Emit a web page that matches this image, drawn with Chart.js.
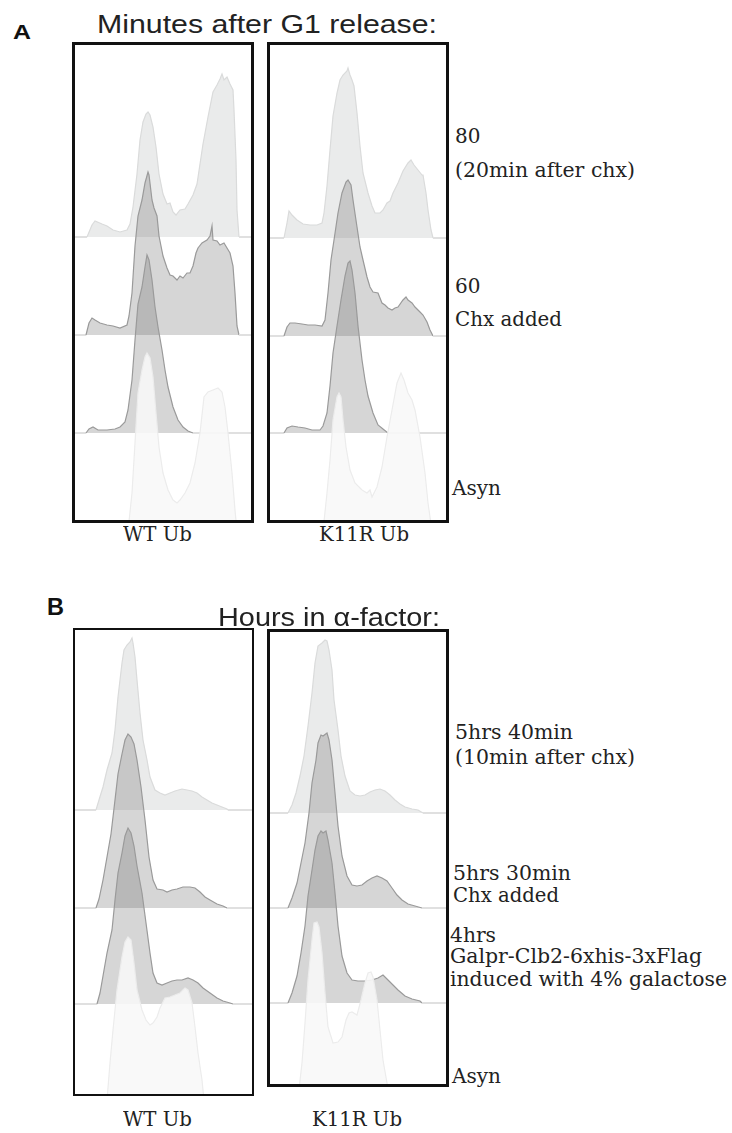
<!DOCTYPE html>
<html><head><meta charset="utf-8">
<script src="https://cdn.jsdelivr.net/npm/chart.js@4.4.1/dist/chart.umd.min.js"></script>
<style>
html,body{margin:0;padding:0;background:#fff;}
body{width:732px;height:1133px;position:relative;overflow:hidden;}
.box{position:absolute;box-sizing:border-box;border-style:solid;border-color:#111;background:#fff;}
.box canvas{display:block;}
.t{position:absolute;left:0;top:0;white-space:nowrap;transform-origin:0 0;color:#222;line-height:1;}
.mk{display:inline-block;width:0;height:0;vertical-align:baseline;}
</style></head><body>
<script>
// ===== DATA: DNA-content histograms (channel, relative cell count) =====
// Panel A, WT Ub
const aWT_80_ch = [12,17,20,27,32,38,45,52,55,58,62,65,68,71,73,75,78,81,84,88,92,95,98,101,105,110,113,118,122,125,128,133,138,142,145,147,149,152,155,158,159,161,162,164];
const aWT_80_n  = [0,12,16,13,11,7,5,7,13,30,63,97,115,123,125,122,110,90,63,43,33,34,25,22,27,28,33,42,53,73,93,120,145,152,158,163,157,160,153,147,127,77,27,0];
const aWT_60_ch = [11,14,17,20,25,32,38,45,52,54,57,60,63,67,70,73,74,77,79,82,84,88,92,95,98,102,105,108,112,115,118,121,123,127,132,135,137,138,142,145,149,152,155,158,160,162,164];
const aWT_60_n  = [0,12,17,15,12,10,9,7,10,19,42,89,119,135,152,163,160,135,127,119,99,79,67,60,59,55,59,57,62,62,69,82,87,92,95,99,109,95,94,90,92,87,82,69,42,9,0];
const aWT_G1_ch = [11,14,18,23,32,40,45,50,53,57,60,63,67,70,72,74,77,80,83,87,90,93,98,103,108,113,118];
const aWT_G1_n  = [0,4,6,3,3,4,6,11,23,53,93,129,146,166,178,173,153,126,106,83,63,46,26,13,6,2,0];
const aWT_As_ch = [53,57,60,63,67,70,72,75,78,81,84,88,93,98,102,105,110,115,120,125,129,133,138,143,147,150,153,157,160,162];
const aWT_As_n  = [0,38,88,138,161,174,178,173,154,118,84,58,41,31,28,31,38,48,68,98,134,139,141,143,139,124,98,58,21,0];
// Panel A, K11R Ub
const aKR_80_ch = [14,17,19,22,27,33,40,47,52,54,57,60,63,67,70,73,77,78,80,82,83,84,87,90,93,98,102,105,110,113,117,120,123,128,133,138,141,144,148,152,153,156,158,161,163];
const aKR_80_n  = [0,15,27,23,18,14,13,13,15,25,52,88,122,145,158,163,167,170,163,158,155,152,125,92,65,45,32,25,25,28,35,37,45,55,67,75,78,73,68,63,63,45,28,8,0];
const aKR_60_ch = [14,17,20,25,32,38,45,52,55,58,61,64,68,72,76,78,81,83,87,90,93,97,100,103,108,112,115,118,122,125,128,133,136,138,142,145,150,153,157,160,163];
const aKR_60_n  = [0,9,13,13,12,11,11,10,16,43,76,96,123,143,154,156,151,136,109,89,76,59,49,44,43,33,31,28,26,28,29,36,39,36,33,29,24,21,14,6,0];
const aKR_G1_ch = [14,17,22,28,35,42,50,53,57,60,63,67,71,75,78,80,82,85,88,92,95,98,103,108,113,118];
const aKR_G1_n  = [0,5,7,6,5,3,3,7,20,47,80,107,133,157,170,172,163,140,107,73,53,37,20,8,4,0];
const aKR_As_ch = [53,57,60,63,67,69,71,73,76,80,85,92,97,100,102,107,112,117,122,127,131,134,138,142,145,150,155,158,162];
const aKR_As_n  = [0,38,71,111,134,138,134,111,84,61,48,41,38,41,34,44,64,94,121,148,158,151,138,131,121,94,58,28,0];
// Panel B, WT Ub
const bWT_540_ch = [21,24,28,32,37,40,43,47,49,52,55,57,58,60,62,65,68,72,75,80,85,90,95,100,107,112,117,122,127,132,137,142,147,152,153];
const bWT_540_n  = [0,10,23,40,57,80,113,147,160,165,168,172,167,153,130,97,70,50,33,20,17,15,17,19,21,20,19,17,13,10,7,5,3,1,0];
const bWT_530_ch = [21,24,28,32,36,40,43,47,50,53,56,59,62,66,70,74,78,82,88,92,97,102,108,115,120,125,130,135,142,148,152];
const bWT_530_n  = [0,9,28,51,74,108,134,154,168,174,171,164,148,121,88,51,28,19,18,16,18,19,21,21,20,16,11,8,4,2,0];
const bWT_4h_ch  = [22,25,28,32,37,40,43,47,50,53,56,59,62,67,71,75,78,82,87,92,97,102,107,113,118,123,128,135,142,148,155,158];
const bWT_4h_n   = [0,11,28,51,74,104,131,151,168,176,171,158,138,111,81,51,31,21,19,21,23,24,24,26,24,21,16,11,6,3,1,0];
const bWT_As_ch  = [32,35,38,42,47,50,53,56,59,62,67,71,75,78,82,85,90,95,100,105,110,113,117,120,123,127,129];
const bWT_As_n   = [0,37,70,110,143,158,163,160,137,110,90,80,75,77,83,92,102,103,105,107,112,110,97,73,47,20,0];
// Panel B, K11R Ub
const bKR_540_ch = [18,22,26,30,34,38,42,45,48,52,55,57,59,62,64,68,71,75,80,85,90,95,100,105,110,115,120,125,130,135,142,148,153];
const bKR_540_n  = [0,8,20,37,57,87,120,150,167,170,173,172,163,143,113,83,57,37,22,18,17,18,21,23,24,22,18,13,9,6,4,3,0];
const bKR_530_ch = [18,22,27,31,35,39,42,46,48,51,53,57,59,62,65,68,72,77,82,87,92,97,102,107,112,117,122,127,132,138,145,152];
const bKR_530_n  = [0,10,25,45,65,95,125,148,165,173,172,175,168,148,115,82,52,32,23,22,23,27,30,32,30,27,20,13,8,4,2,0];
const bKR_4h_ch  = [18,22,27,31,35,38,42,45,48,51,53,56,58,62,65,68,72,77,82,88,95,102,108,113,118,123,128,135,142,150,152];
const bKR_4h_n   = [0,10,27,50,77,107,133,153,167,172,170,172,163,140,110,77,47,30,23,22,22,23,25,28,23,18,13,7,4,2,0];
const bKR_As_ch  = [28,32,35,38,42,44,47,49,52,55,58,63,68,72,76,79,82,87,91,95,98,101,103,107,110,113,117,120];
const bKR_As_n   = [0,35,75,118,158,175,176,171,145,105,71,55,56,61,78,85,86,83,98,115,125,126,121,98,68,38,15,0];

// Labels
const panelLetters = ['A','B'];
const panelTitles = ['Minutes after G1 release:','Hours in α-factor:'];
const strainLabels = ['WT Ub','K11R Ub'];
const rowLabelsA = [['80','(20min after chx)'],['60','Chx added'],['Asyn']];
const rowLabelsB = [['5hrs 40min','(10min after chx)'],['5hrs 30min','Chx added'],['4hrs','Galpr-Clb2-6xhis-3xFlag','induced with 4% galactose'],['Asyn']];

// ===== LAYOUT / STYLE =====
const STY = {
  light:{fill:'rgba(214,216,216,0.5)', border:'#dadbdb', w:1.2},
  dark:{fill:'rgba(105,105,105,0.27)', border:'#9a9a9a', w:1.2},
  asyn:{fill:'rgba(248,248,248,0.9)', border:'#ececec', w:1.2},
  baseCol:'#e0e0e0'
};
const BOXES = [
  {left:72, top:42, w:182, h:481, b:3, base:[192,290,388,486],
   sets:[[aWT_80_ch,aWT_80_n],[aWT_60_ch,aWT_60_n],[aWT_G1_ch,aWT_G1_n],[aWT_As_ch,aWT_As_n]]},
  {left:267, top:42, w:182, h:481, b:3, base:[193,291,388,486],
   sets:[[aKR_80_ch,aKR_80_n],[aKR_60_ch,aKR_60_n],[aKR_G1_ch,aKR_G1_n],[aKR_As_ch,aKR_As_n]]},
  {left:73, top:628, w:181, h:468, b:2, base:[180,278,374,470],
   sets:[[bWT_540_ch,bWT_540_n],[bWT_530_ch,bWT_530_n],[bWT_4h_ch,bWT_4h_n],[bWT_As_ch,bWT_As_n]]},
  {left:267, top:629, w:182, h:458, b:3, base:[181,276,371,466],
   sets:[[bKR_540_ch,bKR_540_n],[bKR_530_ch,bKR_530_n],[bKR_4h_ch,bKR_4h_n],[bKR_As_ch,bKR_As_n]]}
];
const styleOrder = ['light','dark','dark','asyn'];

function makeDataset(ch, n, st, axis, order, xMax){
  const pts = [{x:0,y:0}].concat(ch.map((c,i)=>({x:c,y:n[i]}))).concat([{x:xMax,y:0}]);
  const flat = c => c.p0.parsed.y === 0 && c.p1.parsed.y === 0;
  return {
    data: pts, yAxisID: axis, order: order,
    borderColor: st.border, borderWidth: st.w, backgroundColor: st.fill,
    fill: 'origin', pointRadius: 0, tension: 0,
    segment: {
      borderColor: c => flat(c) ? STY.baseCol : undefined,
      borderWidth: c => flat(c) ? 2 : undefined
    }
  };
}

BOXES.forEach(bx => {
  const div = document.createElement('div');
  div.className = 'box';
  Object.assign(div.style, {left:bx.left+'px', top:bx.top+'px', width:bx.w+'px', height:bx.h+'px', borderWidth:bx.b+'px'});
  const iw = bx.w - 2*bx.b, ih = bx.h - 2*bx.b;
  const cv = document.createElement('canvas');
  cv.width = iw; cv.height = ih; cv.style.width = iw+'px'; cv.style.height = ih+'px';
  div.appendChild(cv);
  document.body.appendChild(div);
  const scales = {x:{type:'linear', min:0, max:iw, display:false}};
  const datasets = [];
  for (let k = 3; k >= 0; k--) {
    const id = 'y'+k;
    scales[id] = {type:'linear', display:false, min: bx.base[k]-ih, max: bx.base[k]};
    datasets.push(makeDataset(bx.sets[k][0], bx.sets[k][1], STY[styleOrder[k]], id, 3-k, iw));
  }
  new Chart(cv, {
    type:'line',
    data:{datasets},
    options:{
      responsive:false, devicePixelRatio:1, animation:false,
      layout:{padding:0},
      plugins:{legend:{display:false}, tooltip:{enabled:false}},
      scales
    }
  });
});

// ===== TEXT =====
function label(text, font, left, baseline, width, color){
  const d = document.createElement('div');
  d.className = 't';
  d.style.font = font;
  if (color) d.style.color = color;
  const s = document.createElement('span');
  s.textContent = text;
  const m = document.createElement('span');
  m.className = 'mk';
  d.appendChild(s); d.appendChild(m);
  document.body.appendChild(d);
  const bl = m.offsetTop;
  d.style.left = left+'px';
  d.style.top = (baseline - bl)+'px';
  if (width) {
    const w = s.getBoundingClientRect().width;
    d.style.transform = 'scaleX('+(width/w)+')';
  }
}
const SANS = '"Liberation Sans", Arial, sans-serif';
const SERIF = '"DejaVu Serif", serif';
label(panelLetters[0], 'bold 21px '+SANS, 13, 39, 18, '#111');
label(panelTitles[0], '25px '+SANS, 97, 33, 340);
label(panelLetters[1], 'bold 23px '+SANS, 47, 615, 17, '#111');
label(panelTitles[1], '26px '+SANS, 218, 626, 222);

label(strainLabels[0], '20px '+SERIF, 123, 541, 69);
label(strainLabels[1], '20px '+SERIF, 319, 541, 90);
label(strainLabels[0], '20px '+SERIF, 123, 1126, 69);
label(strainLabels[1], '20px '+SERIF, 312, 1126, 90);

label(rowLabelsA[0][0], '20px '+SERIF, 455, 143, null);
label(rowLabelsA[0][1], '20px '+SERIF, 455, 177, 180);
label(rowLabelsA[1][0], '20px '+SERIF, 455, 293, null);
label(rowLabelsA[1][1], '20px '+SERIF, 455, 326, 107);
label(rowLabelsA[2][0], '20px '+SERIF, 452, 495, 49);

label(rowLabelsB[0][0], '20px '+SERIF, 455, 739, 118);
label(rowLabelsB[0][1], '20px '+SERIF, 455, 764, 180);
label(rowLabelsB[1][0], '20px '+SERIF, 453, 880, 118);
label(rowLabelsB[1][1], '20px '+SERIF, 453, 902, 106);
label(rowLabelsB[2][0], '20px '+SERIF, 450, 942, 46);
label(rowLabelsB[2][1], '20px '+SERIF, 450, 963, 252);
label(rowLabelsB[2][2], '20px '+SERIF, 450, 986, 277);
label(rowLabelsB[3][0], '20px '+SERIF, 452, 1083, 49);
</script></body></html>
